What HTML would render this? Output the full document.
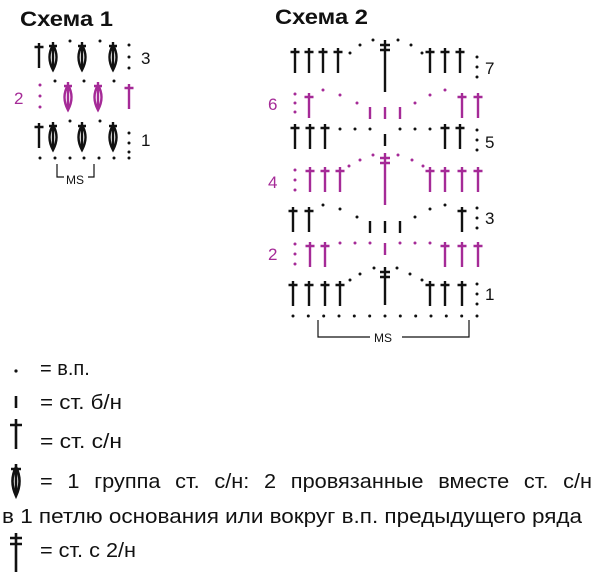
<!DOCTYPE html>
<html><head><meta charset="utf-8"><style>
html,body{margin:0;padding:0;background:#fff;width:600px;height:577px;overflow:hidden}
svg{display:block}
text{font-family:"Liberation Sans","DejaVu Sans",sans-serif}
.k{stroke:#111;fill:none;stroke-width:2.4;stroke-linecap:butt}
.p{stroke:#a52a97;fill:none;stroke-width:2.4}
.dk{fill:#111}.dp{fill:#a52a97}
</style></head><body>
<svg width="600" height="577" viewBox="0 0 600 577" xmlns="http://www.w3.org/2000/svg">
<defs>
<path id="dc" d="M0,0V25M-4.5,4H4.5"/>
<path id="sc" d="M0,0V12"/>
<path id="cl" d="M0,0V28M-4,4H4M0,3Q-7,15 0,28Q7,15 0,3"/>
<path id="tr" d="M0,0V52M-5,5H5M-5,10H5"/>
<path id="trS" d="M0,0V38M-5,5H5M-5,10H5"/>
</defs>
<text x="20" y="26" font-size="21" font-weight="bold" fill="#111" textLength="93" lengthAdjust="spacingAndGlyphs">Схема 1</text>
<text x="275" y="24" font-size="21" font-weight="bold" fill="#111" textLength="93" lengthAdjust="spacingAndGlyphs">Схема 2</text>

<!-- Schema 1 -->
<g class="k">
<use href="#dc" x="39" y="43"/><use href="#cl" x="53" y="42"/><use href="#cl" x="82" y="42"/><use href="#cl" x="113" y="42"/>
<use href="#dc" x="39" y="123"/><use href="#cl" x="53" y="122"/><use href="#cl" x="82" y="122"/><use href="#cl" x="113" y="122"/>
</g>
<g class="p">
<use href="#cl" x="68" y="82"/><use href="#cl" x="98" y="82"/><use href="#dc" x="129" y="84"/>
</g>
<g class="dk">
<circle cx="70" cy="41" r="1.5"/><circle cx="100" cy="41" r="1.5"/>
<circle cx="129" cy="45" r="1.5"/><circle cx="129" cy="57" r="1.5"/><circle cx="129" cy="68" r="1.5"/>
<circle cx="70" cy="121" r="1.5"/><circle cx="100" cy="121" r="1.5"/>
<circle cx="129" cy="133" r="1.5"/><circle cx="129" cy="143" r="1.5"/><circle cx="129" cy="152" r="1.5"/>
<circle cx="40" cy="158" r="1.5"/><circle cx="55" cy="158" r="1.5"/><circle cx="70" cy="158" r="1.5"/><circle cx="84" cy="158" r="1.5"/><circle cx="99" cy="158" r="1.5"/><circle cx="114" cy="158" r="1.5"/><circle cx="129" cy="158" r="1.5"/>
<circle cx="55" cy="81" r="1.5"/><circle cx="84" cy="81" r="1.5"/><circle cx="114" cy="81" r="1.5"/>
</g>
<g class="dp"><circle cx="40" cy="85" r="1.5"/><circle cx="40" cy="96" r="1.5"/><circle cx="40" cy="107" r="1.5"/></g>
<text x="141" y="64" font-size="17" fill="#111">3</text>
<text x="141" y="146" font-size="17" fill="#111">1</text>
<text x="14" y="104" font-size="17" fill="#a52a97">2</text>
<path d="M57,164V177H64M94,164V177H88" stroke="#111" stroke-width="1.2" fill="none"/>
<text x="66" y="184" font-size="12" fill="#111">MS</text>

<!-- Schema 2 -->
<g class="k">
<use href="#dc" x="295" y="48"/><use href="#dc" x="309" y="48"/><use href="#dc" x="323" y="48"/><use href="#dc" x="338" y="48"/>
<use href="#tr" x="385" y="40"/>
<use href="#dc" x="430" y="48"/><use href="#dc" x="445" y="48"/><use href="#dc" x="460" y="48"/>
<use href="#dc" x="295" y="124"/><use href="#dc" x="310" y="124"/><use href="#dc" x="325" y="124"/>
<use href="#sc" x="385" y="134"/>
<use href="#dc" x="445" y="124"/><use href="#dc" x="460" y="124"/>
<use href="#dc" x="293" y="207"/><use href="#dc" x="309" y="207"/>
<use href="#sc" x="370" y="221"/><use href="#sc" x="385" y="221"/><use href="#sc" x="400" y="221"/>
<use href="#dc" x="462" y="207"/>
<use href="#dc" x="293" y="281"/><use href="#dc" x="309" y="281"/><use href="#dc" x="325" y="281"/><use href="#dc" x="340" y="281"/>
<use href="#trS" x="385" y="267"/>
<use href="#dc" x="430" y="281"/><use href="#dc" x="445" y="281"/><use href="#dc" x="462" y="281"/>
</g>
<g class="p">
<use href="#dc" x="309" y="93"/><use href="#sc" x="370" y="107"/><use href="#sc" x="385" y="107"/><use href="#sc" x="400" y="107"/>
<use href="#dc" x="462" y="93"/><use href="#dc" x="478" y="93"/>
<use href="#dc" x="310" y="167"/><use href="#dc" x="325" y="167"/><use href="#dc" x="340" y="167"/>
<use href="#tr" x="385" y="153"/>
<use href="#dc" x="430" y="167"/><use href="#dc" x="445" y="167"/><use href="#dc" x="462" y="167"/><use href="#dc" x="478" y="167"/>
<use href="#dc" x="310" y="242"/><use href="#dc" x="325" y="242"/>
<use href="#sc" x="385" y="243"/>
<use href="#dc" x="445" y="242"/><use href="#dc" x="462" y="242"/><use href="#dc" x="478" y="242"/>
</g>
<g class="dk">
<circle cx="350" cy="53" r="1.5"/><circle cx="360" cy="45" r="1.5"/><circle cx="373" cy="40" r="1.5"/><circle cx="398" cy="40" r="1.5"/><circle cx="411" cy="45" r="1.5"/><circle cx="422" cy="53" r="1.5"/>
<circle cx="477" cy="57" r="1.5"/><circle cx="477" cy="67" r="1.5"/><circle cx="477" cy="77" r="1.5"/>
<circle cx="340" cy="129" r="1.5"/><circle cx="355" cy="129" r="1.5"/><circle cx="370" cy="129" r="1.5"/><circle cx="400" cy="129" r="1.5"/><circle cx="415" cy="129" r="1.5"/><circle cx="430" cy="129" r="1.5"/>
<circle cx="477" cy="130" r="1.5"/><circle cx="477" cy="140" r="1.5"/><circle cx="477" cy="150" r="1.5"/>
<circle cx="323" cy="205" r="1.5"/><circle cx="340" cy="209" r="1.5"/><circle cx="357" cy="217" r="1.5"/><circle cx="415" cy="217" r="1.5"/><circle cx="430" cy="209" r="1.5"/><circle cx="445" cy="205" r="1.5"/>
<circle cx="477" cy="208" r="1.5"/><circle cx="477" cy="218" r="1.5"/><circle cx="477" cy="228" r="1.5"/>
<circle cx="350" cy="280" r="1.5"/><circle cx="360" cy="274" r="1.5"/><circle cx="374" cy="268" r="1.5"/><circle cx="397" cy="268" r="1.5"/><circle cx="410" cy="274" r="1.5"/><circle cx="422" cy="280" r="1.5"/>
<circle cx="477" cy="284" r="1.5"/><circle cx="477" cy="294" r="1.5"/><circle cx="477" cy="304" r="1.5"/>
<circle cx="293" cy="316" r="1.5"/><circle cx="308.3" cy="316" r="1.5"/><circle cx="323.7" cy="316" r="1.5"/><circle cx="339" cy="316" r="1.5"/><circle cx="354.3" cy="316" r="1.5"/><circle cx="369.7" cy="316" r="1.5"/><circle cx="385" cy="316" r="1.5"/><circle cx="400.3" cy="316" r="1.5"/><circle cx="415.7" cy="316" r="1.5"/><circle cx="431" cy="316" r="1.5"/><circle cx="446.3" cy="316" r="1.5"/><circle cx="461.7" cy="316" r="1.5"/><circle cx="477" cy="316" r="1.5"/>
</g>
<g class="dp">
<circle cx="295" cy="94" r="1.5"/><circle cx="295" cy="103" r="1.5"/><circle cx="295" cy="112" r="1.5"/>
<circle cx="323" cy="90" r="1.5"/><circle cx="340" cy="95" r="1.5"/><circle cx="357" cy="103" r="1.5"/><circle cx="415" cy="103" r="1.5"/><circle cx="430" cy="95" r="1.5"/><circle cx="445" cy="90" r="1.5"/>
<circle cx="295" cy="170" r="1.5"/><circle cx="295" cy="180" r="1.5"/><circle cx="295" cy="190" r="1.5"/>
<circle cx="349" cy="166" r="1.5"/><circle cx="360" cy="160" r="1.5"/><circle cx="373" cy="155" r="1.5"/><circle cx="398" cy="155" r="1.5"/><circle cx="412" cy="160" r="1.5"/><circle cx="423" cy="166" r="1.5"/>
<circle cx="295" cy="244" r="1.5"/><circle cx="295" cy="254" r="1.5"/><circle cx="295" cy="264" r="1.5"/>
<circle cx="340" cy="243" r="1.5"/><circle cx="355" cy="243" r="1.5"/><circle cx="370" cy="243" r="1.5"/><circle cx="400" cy="243" r="1.5"/><circle cx="415" cy="243" r="1.5"/><circle cx="430" cy="243" r="1.5"/>
</g>
<g font-size="17">
<text x="485" y="74" fill="#111">7</text>
<text x="485" y="148" fill="#111">5</text>
<text x="485" y="224" fill="#111">3</text>
<text x="485" y="300" fill="#111">1</text>
<text x="268" y="110" fill="#a52a97">6</text>
<text x="268" y="188" fill="#a52a97">4</text>
<text x="268" y="260" fill="#a52a97">2</text>
</g>
<path d="M318,320V337H370M469,320V337H402" stroke="#111" stroke-width="1.2" fill="none"/>
<text x="374" y="342" font-size="12" fill="#111">MS</text>

<!-- legend -->
<circle cx="16" cy="371" r="1.6" fill="#111"/>
<g class="k" style="stroke-width:2.6">
<use href="#sc" x="16" y="396"/>
<path d="M16,419V449M10,425H22"/>
<path d="M16,464V496M11,469H21M16,467Q9,481 16,496Q23,481 16,467"/>
<path d="M16,533V572M10,538H22M10,544H22"/>
</g>
<g font-size="20" fill="#111">
<text x="40" y="375">= в.п.</text>
<text x="40" y="409" textLength="82" lengthAdjust="spacingAndGlyphs">= ст. б/н</text>
<text x="40" y="448" textLength="82" lengthAdjust="spacingAndGlyphs">= ст. с/н</text>
<text x="40" y="488" textLength="552" lengthAdjust="spacingAndGlyphs" word-spacing="8">= 1 группа ст. с/н: 2 провязанные вместе ст. с/н</text>
<text x="2" y="523" textLength="580" lengthAdjust="spacingAndGlyphs">в 1 петлю основания или вокруг в.п. предыдущего ряда</text>
<text x="40" y="557" textLength="96" lengthAdjust="spacingAndGlyphs">= ст. с 2/н</text>
</g>
</svg>
</body></html>
